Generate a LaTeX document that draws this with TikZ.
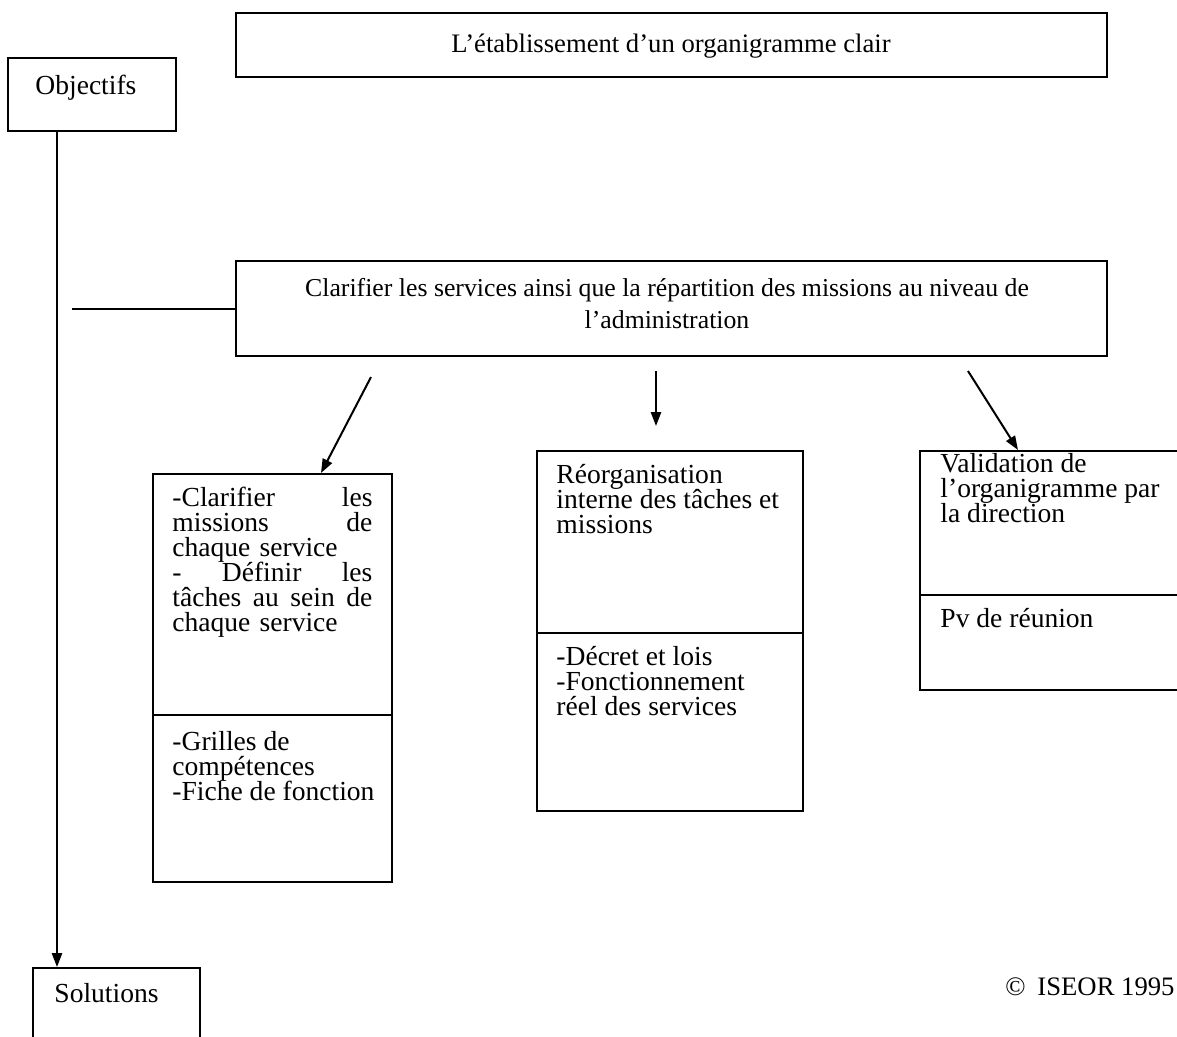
\documentclass[tikz,border=0pt]{standalone}
\usepackage{fontspec}
\setmainfont{Liberation Serif}
\usetikzlibrary{arrows.meta, positioning, calc, fit}
\newcommand{\boxfont}{\fontsize{12.4}{11.25}\selectfont\lineskiplimit=-20pt\relax}

\begin{document}
\begin{tikzpicture}[
        x=0.45pt, y=-0.45pt,
        box/.style={draw, line width=0.9pt, inner sep=0pt},
        txt/.style={inner sep=0pt, anchor=north west, align=left, font=\boxfont},
        wide/.style={inner sep=0pt, align=center, font=\fontsize{11.6}{14.4}\selectfont},
        link/.style={line width=0.9pt},
        arrow/.style={line width=0.9pt, -{Triangle[length=6.3pt, width=4.6pt]}}
    ]
    \useasboundingbox (0,0) rectangle (1177,1036);

    % Title and side labels
    \node[box, line width=1.1pt, fit={(236,13) (1107,77)}] (title) {};
    \node[wide, font=\fontsize{12}{14.4}\selectfont, anchor=base] (titletxt) at (671,52) {L’établissement d’un organigramme clair};
    \node[box, fit={(8,58) (176,131)}] (obj) {};
    \node[txt] (objtxt) at (35,75) {Objectifs};
    \node[box, fit={(33,968) (200,1070)}] (sol) {};
    \node[txt] (soltxt) at (54,983) {Solutions};

    % Main objective
    \node[box, fit={(236,261) (1107,356)}] (mid) {};
    \node[wide, anchor=north] (midtxt) at (667,278) {Clarifier les services ainsi que la répartition des missions au niveau de\\ l’administration};

    % Lines from the objectives
    \coordinate (vtop) at (57,131);
    \coordinate (hstart) at (72,309);
    \draw[arrow] (vtop) -- (vtop |- sol.north);
    \draw[link] (hstart) -- (hstart -| mid.west);

    % Left action
    \node[box, fit={(153,474) (392,715)}] (lefttop) {};
    \node[box, fit={(153,715) (392,882)}] (leftbot) {};
    \node[txt, text width=90pt] (lefttoptxt) at (172,487) {-Clarifier\hfill les\\missions\hfill de\\chaque service\\-\hfill Définir\hfill les\\tâches\hfill au\hfill sein\hfill de\\chaque service};
    \node[txt] (leftbottxt) at (172,731) {-Grilles de\\compétences\\-Fiche de fonction};

    % Middle action
    \node[box, fit={(537,451) (803,633)}] (centtop) {};
    \node[box, fit={(537,633) (803,811)}] (centbot) {};
    \node[txt] (centtoptxt) at (556,464) {Réorganisation\\interne des tâches et\\missions};
    \node[txt] (centbottxt) at (556,646) {-Décret et lois\\-Fonctionnement\\réel des services};

    % Right action
    \node[box, fit={(920,451) (1195,595)}] (righttop) {};
    \node[box, fit={(920,595) (1195,690)}] (rightbot) {};
    \node[txt] (righttoptxt) at (940,453) {Validation de\\l’organigramme par\\la direction};
    \node[txt] (rightbottxt) at (940,608) {Pv de réunion};

    % Arrows
    \coordinate (a1) at (371,377);
    \coordinate (a2) at (656,371);
    \coordinate (a2e) at (656,426);
    \coordinate (a3) at (968,371);
    \draw[arrow] (a1) -- ($(lefttop.north west)+(169,0)$);
    \draw[arrow] (a2) -- (a2e);
    \draw[arrow] (a3) -- ($(righttop.north west)+(99,0)$);

    % Copyright
    \node[anchor=base east, inner sep=0pt, font=\fontsize{12}{14.4}\selectfont] (copy) at (1175,995) {©\hspace{0.45em}ISEOR 1995};
\end{tikzpicture}
\end{document}
